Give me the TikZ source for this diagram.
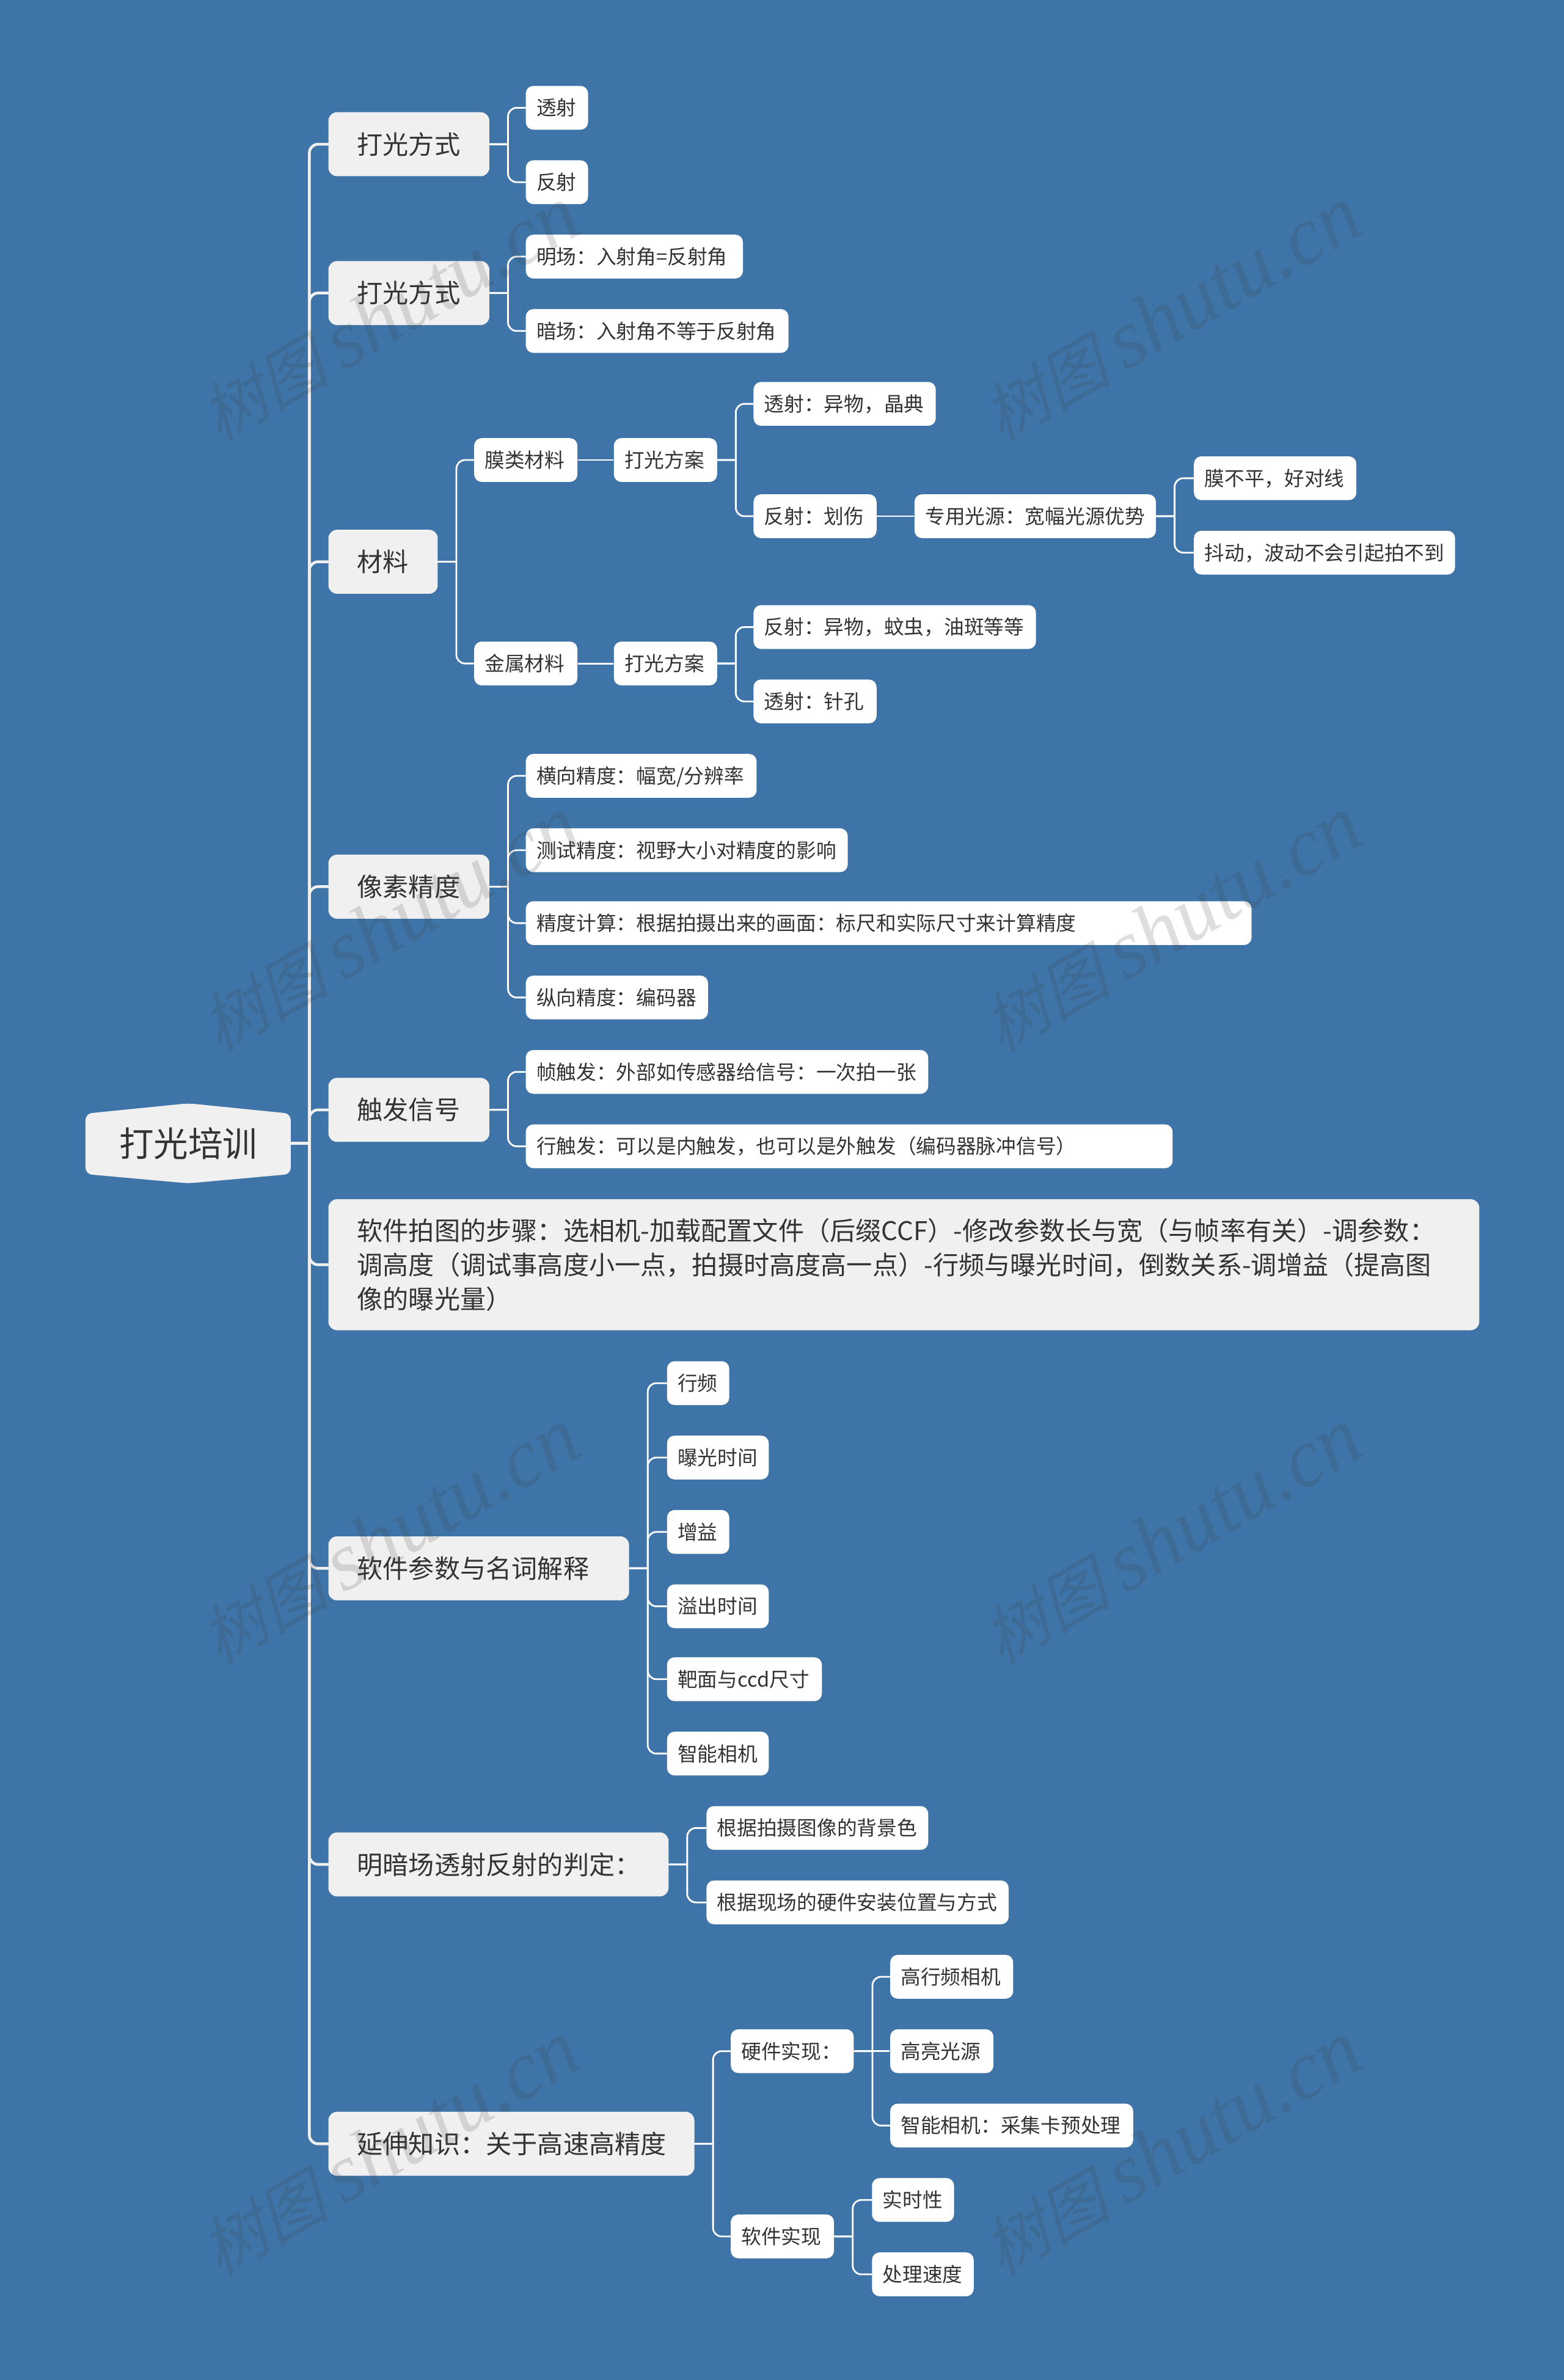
\documentclass[tikz,border=0pt]{standalone}
\usepackage{fontspec}
\setmainfont{Noto Sans CJK SC}
\newfontfamily\markcjk[FakeSlant=0.25]{Noto Sans CJK SC}
\newfontfamily\marklatin{Liberation Serif}
\usetikzlibrary{calc}
\usetikzlibrary{positioning}
\definecolor{bgblue}{HTML}{3E74A7}
\definecolor{branchfill}{HTML}{F0F0F0}
\definecolor{inkgray}{HTML}{333333}
\tikzset{
    branchbox/.style={fill=branchfill, text=inkgray, rounded corners=4pt, anchor=west, inner xsep=13.4pt, inner ysep=0pt,
        minimum height=29.8pt, text height=9.6pt, text depth=0.5pt, font=\fontsize{12pt}{16pt}\selectfont},
    leafbox/.style={fill=white, text=inkgray, rounded corners=3.5pt, anchor=west, inner xsep=4.95pt, inner ysep=0pt,
        minimum height=20.4pt, text height=7.5pt, text depth=0.4pt, font=\fontsize{9.31pt}{12pt}\selectfont},
    trunklink/.style={draw=branchfill, line width=1.3pt, rounded corners=4pt, line cap=round},
    leaflink/.style={draw=white, line width=0.8pt, rounded corners=4pt, line cap=round,
        to path={-- ([xshift=8.5pt]\tikztostart.east) ([xshift=8.5pt]\tikztostart.east) |- (\tikztotarget.west)}},
    straightlink/.style={draw=white, line width=0.8pt},
    markbox/.style={text=black!75, opacity=0.17, text opacity=0.17, rotate=30, inner sep=0pt},
}
\begin{document}
\begin{tikzpicture}[x=0.24854mm, y=-0.24854mm]
        \useasboundingbox[fill=bgblue] (0,0) rectangle (1030,1567.6);
        % Root shape
        \fill[branchfill, rounded corners=3pt] (56.3,733.5) -- (124,726.7) -- (191.5,733.5) -- (191.5,773.3) -- (124,779.4) -- (56.3,773.3) -- cycle;
        \node[inner sep=0pt, text=inkgray, minimum width=95.2pt, minimum height=40pt, font=\fontsize{16.1pt}{20pt}\selectfont] (root) at (124,753) {打光培训};
        \coordinate[right=8.6pt of root.east] (rootjoin);
        % First level
        \foreach \name/\l/\r/\y/\txt in {
            modea/216/322/95/打光方式,
            modeb/216/322/193/打光方式,
            mater/216/288/370/材料,
            pixel/216/322/584/像素精度,
            trig/216/322/731/触发信号,
            param/216/414/1033/软件参数与名词解释,
            judge/216/440/1228/明暗场透射反射的判定：,
            extra/216/457/1412/延伸知识：关于高速高精度} {
            \pgfmathsetmacro\w{(\r-\l)*0.24854*2.84526-26.8}
            \node[branchbox] (\name) at (\l,\y) {\makebox[\w pt][l]{\txt}};
        }
        % Steps box with three lines
        \node[branchbox, align=left, minimum height=61pt, text width=509.2pt, text height=, text depth=] (steps) at (216,833) {软件拍图的步骤：选相机-加载配置文件（后缀CCF）-修改参数长与宽（与帧率有关）-调参数：\\调高度（调试事高度小一点，拍摄时高度高一点）-行频与曝光时间，倒数关系-调增益（提高图\\像的曝光量）};
        % Leaves
        \foreach \name/\l/\r/\y/\txt in {
            modeaa/346/387/71/透射,
            modeab/346/387/120/反射,
            modeba/346/489/169/明场：入射角=反射角,
            modebb/346/519/218/暗场：入射角不等于反射角,
            film/312/380/303/膜类材料,
            filmplan/404/472/303/打光方案,
            filmt/496/616/266/透射：异物，晶典,
            filmr/496/577/340/反射：划伤,
            lamp/602/761/340/专用光源：宽幅光源优势,
            lampa/786/893/315/膜不平，好对线,
            lampb/786/958/364/抖动，波动不会引起拍不到,
            metal/312/380/437/金属材料,
            metalplan/404/472/437/打光方案,
            metalr/496/682/413/反射：异物，蚊虫，油斑等等,
            metalt/496/577/462/透射：针孔,
            pixa/346/498/511/{横向精度：幅宽/分辨率},
            pixb/346/558/560/测试精度：视野大小对精度的影响,
            pixc/346/824/608/精度计算：根据拍摄出来的画面：标尺和实际尺寸来计算精度,
            pixd/346/466/657/纵向精度：编码器,
            triga/346/611/706/帧触发：外部如传感器给信号：一次拍一张,
            trigb/346/772/755/行触发：可以是内触发，也可以是外触发（编码器脉冲信号）,
            para/439/480/911/行频,
            parb/439/506/960/曝光时间,
            parc/439/480/1009/增益,
            pard/439/506/1058/溢出时间,
            pare/439/541/1106/靶面与ccd尺寸,
            parf/439/506/1155/智能相机,
            judgea/465/611/1204/根据拍摄图像的背景色,
            judgeb/465/664/1253/根据现场的硬件安装位置与方式,
            hard/481/562/1351/硬件实现：,
            soft/481/549/1473/软件实现,
            harda/586/667/1302/高行频相机,
            hardb/586/654/1351/高亮光源,
            hardc/586/746/1400/智能相机：采集卡预处理,
            softa/574/628/1449/实时性,
            softb/574/641/1498/处理速度} {
            \pgfmathsetmacro\w{(\r-\l)*0.24854*2.84526-9.9}
            \node[leafbox] (\name) at (\l,\y) {\makebox[\w pt][l]{\txt}};
        }
        % Connectors
        \draw[trunklink] (root.east) -- (rootjoin);
        \foreach \to in {modea,modeb,mater,pixel,trig,steps,param,judge,extra} {
            \draw[trunklink] (rootjoin) |- (\to.west);
        }
        \foreach \from/\to in {modea/modeaa, modea/modeab, modeb/modeba, modeb/modebb,
            mater/film, mater/metal, filmplan/filmt, filmplan/filmr,
            lamp/lampa, lamp/lampb, metalplan/metalr, metalplan/metalt,
            pixel/pixa, pixel/pixb, pixel/pixc, pixel/pixd, trig/triga, trig/trigb,
            param/para, param/parb, param/parc, param/pard, param/pare, param/parf,
            judge/judgea, judge/judgeb, extra/hard, extra/soft,
            hard/harda, hard/hardc, soft/softa, soft/softb} {
            \draw[leaflink] (\from) to (\to);
        }
        \foreach \from/\to in {film/filmplan, filmr/lamp, metal/metalplan, hard/hardb} {
            \draw[straightlink] (\from) -- (\to);
        }
        % Watermarks
        \foreach \i/\mx/\my in {1/256.5/207, 2/771.5/207, 3/256.5/609, 4/771.5/609, 5/256.5/1012, 6/771.5/1012, 7/256.5/1415, 8/771.5/1415} {
            \node[markbox] (mark\i) at (\mx,\my) {\fontsize{30pt}{32pt}\markcjk 树图 \fontsize{38.7pt}{40pt}\marklatin\itshape shutu.cn};
        }
\end{tikzpicture}
\end{document}
